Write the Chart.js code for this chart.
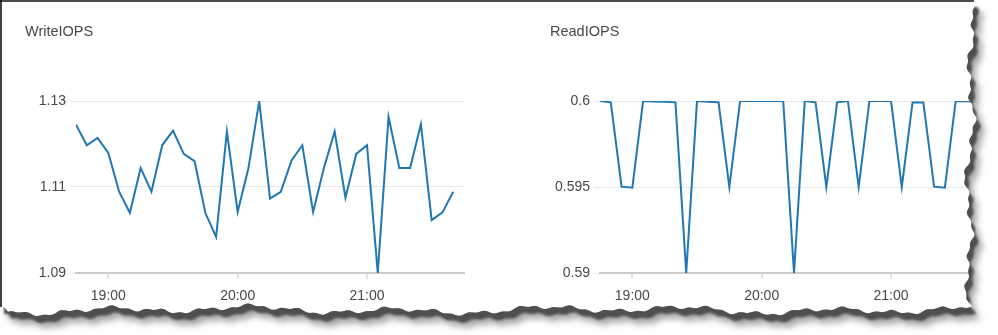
<!DOCTYPE html>
<html><head><meta charset="utf-8">
<script src="https://cdn.jsdelivr.net/npm/chart.js@4.4.1/dist/chart.umd.min.js"></script>
<style>
html,body{margin:0;padding:0;background:#fff;}
#wrap{position:relative;width:998px;height:335px;overflow:hidden;background:#fff;}
.box{position:absolute;top:0;height:335px;}
.title{position:absolute;top:23px;font-family:'Liberation Sans',Arial,sans-serif;font-size:14.5px;color:#484848;line-height:17px;white-space:nowrap;}
svg{position:absolute;left:0;top:0;}
</style></head><body>
<div id="wrap">
<div class="box" style="left:0;width:490px"><canvas id="c1" width="490" height="335"></canvas></div>
<div class="box" style="left:500px;width:498px"><canvas id="c2" width="498" height="335"></canvas></div>
<div class="title" style="left:25px">WriteIOPS</div>
<div class="title" style="left:550px">ReadIOPS</div>
<svg id="deco" width="998" height="335"></svg>
</div>
<script>
const times = ['18:45','18:50','18:55','19:00','19:05','19:10','19:15','19:20','19:25','19:30','19:35','19:40',
               '19:45','19:50','19:55','20:00','20:05','20:10','20:15','20:20','20:25','20:30','20:35','20:40',
               '20:45','20:50','20:55','21:00','21:05','21:10','21:15','21:20','21:25','21:30','21:35','21:40'];
const writeIOPS = [1.1245,1.1197,1.1214,1.1179,1.1089,1.1040,1.1144,1.1089,1.1197,1.1231,1.1177,1.1160,
                   1.1040,1.0984,1.1229,1.1042,1.1144,1.1300,1.1073,1.1089,1.1162,1.1197,1.1042,1.1144,
                   1.1229,1.1075,1.1177,1.1197,1.0900,1.1263,1.1144,1.1144,1.1246,1.1023,1.1041,1.1089];
const readIOPS = [0.6,0.59992,0.59502,0.59496,0.6,0.59997,0.59995,0.59992,0.59,0.6,0.59996,0.59992,
                  0.595,0.6,0.6,0.6,0.6,0.6,0.59,0.6,0.59992,0.595,0.59992,0.6,
                  0.595,0.6,0.6,0.6,0.595,0.59992,0.59992,0.59502,0.59496,0.6,0.59998,0.59996];
const xTickLabels = ['19:00','20:00','21:00'];
const xRange = ['18:45','21:45'];
const writeYTicks = [1.09, 1.11, 1.13];
const readYTicks = [0.59, 0.595, 0.6];

const toMin = s => { const p = s.split(':').map(Number); return p[0]*60 + p[1]; };
const fmtMin = v => Math.floor(v/60) + ':' + String(Math.round(v%60)).padStart(2,'0');
const FONT = {family:"'Liberation Sans', Arial, sans-serif", size:14};

function makeChart(id, values, yTicks, yWidth, padRight) {
  return new Chart(document.getElementById(id), {
    type: 'line',
    data: { datasets: [{
      data: times.map((t,i) => ({x: toMin(t), y: values[i]})),
      borderColor: '#1f77b4', borderWidth: 2, pointRadius: 0, tension: 0, fill: false
    }]},
    options: {
      responsive: false, animation: false,
      layout: { padding: { top: 101, right: padRight, bottom: 0, left: 0 } },
      plugins: { legend: {display:false}, tooltip: {enabled:false}, title: {display:false} },
      scales: {
        x: {
          type: 'linear', min: toMin(xRange[0]), max: toMin(xRange[1]),
          afterBuildTicks: s => { s.ticks = xTickLabels.map(l => ({value: toMin(l)})); },
          afterFit: s => { s.height = 62; },
          ticks: { callback: v => fmtMin(v), color: '#484848', font: FONT, padding: 9, maxRotation: 0, autoSkip: false },
          grid: { drawOnChartArea: false, drawTicks: true, tickLength: 6, color: '#e4e4e4', lineWidth: 2 },
          border: { display: true, color: '#cccccc', width: 2 }
        },
        y: {
          min: yTicks[0], max: yTicks[yTicks.length-1],
          afterBuildTicks: s => { s.ticks = yTicks.map(v => ({value: v})); },
          afterFit: s => { s.width = yWidth; },
          ticks: { callback: v => String(v), color: '#484848', font: FONT, padding: 4 },
          grid: { color: '#e8e8e8', lineWidth: 1, tickLength: 6, drawTicks: true },
          border: { display: false }
        }
      }
    }
  });
}
makeChart('c1', writeIOPS, writeYTicks, 76, 26);
makeChart('c2', readIOPS, readYTicks, 100, 10);

// torn-paper decoration
const svg = document.getElementById('deco');
const NS = 'http://www.w3.org/2000/svg';
function el(tag, attrs, parent) { const e = document.createElementNS(NS, tag); for (const k in attrs) e.setAttribute(k, attrs[k]); (parent||svg).appendChild(e); return e; }
const yb = x => 310 + 2.6*Math.sin(x/23) + 1.7*Math.sin(x/7.3+2) + 0.9*Math.sin(x/2.7+1) + 1.5*Math.sin(x/61+1);
const xr = y => 970 + 3*Math.sin(y/17+0.5) + 2*Math.sin(y/6.1+1) + 1.1*Math.sin(y/2.3) + 1.5*Math.sin(y/47);
let pts = [[0,0]];
const yEnd = 311;
for (let y = 0; y <= yEnd; y += 2) pts.push([xr(y), y]);
for (let x = Math.floor(xr(yEnd)); x >= 8; x -= 2) pts.push([x, yb(x)]);
pts.push([4, 307]); pts.push([0, 307]);
const paper = 'M' + pts.map(p => p[0].toFixed(1) + ' ' + p[1].toFixed(1)).join('L') + 'Z';
const defs = el('defs', {});
const clip = el('clipPath', {id:'outside'}, defs);
el('path', {d: 'M-20 -20H1020V360H-20Z ' + paper, 'clip-rule':'evenodd'}, clip);
const f1 = el('filter', {id:'blur1', x:'-10%', y:'-10%', width:'120%', height:'120%'}, defs);
el('feGaussianBlur', {stdDeviation:'3.5'}, f1);
const f2 = el('filter', {id:'blur2', x:'-10%', y:'-10%', width:'120%', height:'120%'}, defs);
el('feGaussianBlur', {stdDeviation:'0.8'}, f2);
const g = el('g', {'clip-path':'url(#outside)'});
el('rect', {x:0, y:0, width:998, height:335, fill:'#fff'}, g);
el('path', {d: paper, fill:'#a0a0a0', transform:'translate(8 12)', filter:'url(#blur1)'}, g);
el('path', {d: paper, fill:'#505050', transform:'translate(4 7)', filter:'url(#blur2)'}, g);
// top / left frame lines
el('line', {x1:0, y1:1, x2:xr(1), y2:1, stroke:'#111', 'stroke-width':1.6});
el('line', {x1:1, y1:0, x2:1, y2:307, stroke:'#111', 'stroke-width':1.6});
</script>
</body></html>
